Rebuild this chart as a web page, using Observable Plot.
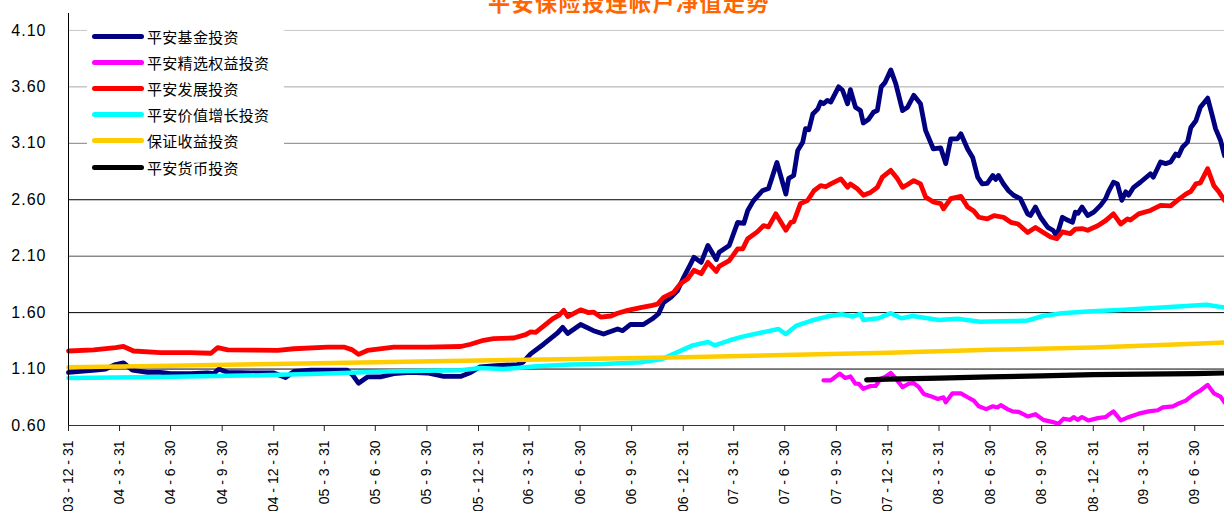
<!DOCTYPE html>
<html>
<head>
<meta charset="utf-8">
<script src="https://cdn.jsdelivr.net/npm/d3@7"></script>
<script src="https://cdn.jsdelivr.net/npm/@observablehq/plot@0.6"></script>
<style>
  html, body { margin: 0; padding: 0; background: #fff; }
  #wrap { position: relative; width: 1224px; height: 511px; overflow: hidden; }
  #legend { position: absolute; left: 87px; top: 23px; width: 197px; height: 162px; background: #fff; }
  .row { position: absolute; left: 0; height: 26px; display: flex; align-items: center; }
  .sw { width: 52px; height: 5px; border-radius: 3px; margin-left: 5px; margin-right: 3px; }
  .lb { font-family: "Noto Sans CJK SC", sans-serif; font-size: 15px; color: #000; letter-spacing: 0.3px; white-space: nowrap; }
  g[aria-label="y-axis tick label"] text { letter-spacing: 1px; }
</style>
</head>
<body>
<div id="wrap"></div>
<script>
const title = "平安保险投连帐户净值走势";
const seriesNames = ["平安基金投资", "平安精选权益投资", "平安发展投资", "平安价值增长投资", "保证收益投资", "平安货币投资"];
const yTicks = [0.6, 1.1, 1.6, 2.1, 2.6, 3.1, 3.6, 4.1];
const xTickLabels = ["03-12-31","04-3-31","04-6-30","04-9-30","04-12-31","05-3-31","05-6-30","05-9-30","05-12-31","06-3-31","06-6-30","06-9-30","06-12-31","07-3-31","07-6-30","07-9-30","07-12-31","08-3-31","08-6-30","08-9-30","08-12-31","09-3-31","09-6-30"];
const xDomain = ["2003-12-31", "2009-08-22"];

// 平安基金投资
const fundDates = ["2003-12-31","2004-01-21","2004-02-17","2004-03-06","2004-03-24","2004-04-07","2004-04-23","2004-05-20","2004-06-12","2004-06-30","2004-08-05","2004-09-04","2004-09-15","2004-09-24","2004-10-10","2004-11-20","2004-12-31","2005-01-21","2005-02-05","2005-03-07","2005-04-11","2005-05-11","2005-05-20","2005-05-31","2005-06-16","2005-07-09","2005-08-02","2005-09-01","2005-10-01","2005-10-30","2005-11-29","2005-12-17","2006-01-03","2006-01-31","2006-03-11","2006-03-20","2006-04-03","2006-04-26","2006-05-21","2006-05-30","2006-06-08","2006-07-01","2006-07-24","2006-08-11","2006-09-05","2006-09-14","2006-09-28","2006-10-21","2006-11-06","2006-11-17","2006-11-26","2006-12-09","2006-12-21","2007-01-01","2007-01-10","2007-01-19","2007-02-01","2007-02-13","2007-02-28","2007-03-05","2007-03-23","2007-04-07","2007-04-18","2007-04-25","2007-05-05","2007-05-21","2007-06-01","2007-06-16","2007-07-02","2007-07-07","2007-07-16","2007-07-23","2007-08-01","2007-08-06","2007-08-12","2007-08-19","2007-08-28","2007-09-02","2007-09-07","2007-09-14","2007-09-20","2007-10-04","2007-10-11","2007-10-20","2007-10-25","2007-11-03","2007-11-12","2007-11-17","2007-11-26","2007-12-05","2007-12-12","2007-12-19","2007-12-26","2008-01-05","2008-01-14","2008-01-26","2008-02-04","2008-02-15","2008-02-27","2008-03-07","2008-03-21","2008-04-03","2008-04-12","2008-04-21","2008-05-03","2008-05-09","2008-05-21","2008-05-30","2008-06-08","2008-06-16","2008-06-25","2008-07-05","2008-07-10","2008-07-15","2008-07-24","2008-08-02","2008-08-11","2008-08-23","2008-09-05","2008-09-10","2008-09-19","2008-09-28","2008-10-11","2008-10-20","2008-10-27","2008-11-06","2008-11-15","2008-11-24","2008-11-29","2008-12-04","2008-12-11","2008-12-21","2009-01-01","2009-01-13","2009-01-22","2009-01-27","2009-02-05","2009-02-12","2009-02-20","2009-02-27","2009-03-04","2009-03-13","2009-03-25","2009-04-12","2009-04-17","2009-04-30","2009-05-09","2009-05-18","2009-05-27","2009-06-01","2009-06-08","2009-06-17","2009-06-23","2009-07-02","2009-07-10","2009-07-23","2009-08-01","2009-08-06","2009-08-15","2009-08-22"];
const fundValues = [1.07,1.08,1.09,1.10,1.14,1.155,1.09,1.07,1.07,1.06,1.06,1.065,1.06,1.10,1.07,1.065,1.065,1.025,1.08,1.09,1.09,1.09,1.05,0.975,1.03,1.03,1.06,1.07,1.065,1.035,1.035,1.07,1.12,1.13,1.14,1.16,1.235,1.32,1.42,1.47,1.415,1.495,1.44,1.41,1.455,1.44,1.495,1.495,1.545,1.59,1.69,1.735,1.795,1.915,2.00,2.09,2.045,2.195,2.07,2.135,2.195,2.40,2.39,2.505,2.59,2.68,2.70,2.93,2.65,2.79,2.815,3.035,3.11,3.23,3.22,3.36,3.405,3.465,3.45,3.48,3.465,3.60,3.57,3.45,3.575,3.42,3.39,3.28,3.31,3.375,3.39,3.60,3.64,3.75,3.627,3.39,3.42,3.525,3.45,3.215,3.05,3.06,2.92,3.14,3.14,3.185,3.05,2.975,2.80,2.74,2.745,2.815,2.78,2.815,2.74,2.68,2.64,2.61,2.475,2.46,2.535,2.445,2.355,2.33,2.28,2.445,2.42,2.40,2.49,2.48,2.535,2.46,2.49,2.55,2.61,2.67,2.755,2.74,2.595,2.67,2.64,2.71,2.755,2.83,2.80,2.935,2.92,2.935,3.005,2.99,3.065,3.11,3.24,3.30,3.42,3.50,3.33,3.23,3.125,2.99];

// 平安精选权益投资
const equityDates = ["2007-09-07","2007-09-20","2007-10-06","2007-10-16","2007-10-25","2007-11-03","2007-11-09","2007-11-17","2007-11-30","2007-12-09","2007-12-18","2007-12-26","2008-01-05","2008-01-14","2008-01-26","2008-02-06","2008-02-15","2008-02-24","2008-03-04","2008-03-16","2008-03-29","2008-04-08","2008-04-12","2008-04-24","2008-05-09","2008-05-21","2008-06-01","2008-06-10","2008-06-23","2008-07-05","2008-07-13","2008-07-19","2008-07-31","2008-08-09","2008-08-20","2008-09-05","2008-09-19","2008-10-03","2008-10-20","2008-10-30","2008-11-08","2008-11-20","2008-11-26","2008-12-03","2008-12-11","2008-12-22","2009-01-08","2009-01-22","2009-02-05","2009-02-18","2009-03-02","2009-03-22","2009-04-09","2009-04-25","2009-05-04","2009-05-22","2009-05-30","2009-06-14","2009-06-28","2009-07-10","2009-07-23","2009-08-03","2009-08-15","2009-08-22"];
const equityValues = [1.00,1.00,1.06,1.02,1.035,0.97,0.97,0.925,0.95,0.95,1.015,1.03,1.065,1.015,0.94,0.97,0.975,0.94,0.88,0.86,0.835,0.85,0.805,0.885,0.885,0.85,0.82,0.77,0.745,0.77,0.76,0.78,0.745,0.725,0.72,0.68,0.70,0.65,0.63,0.615,0.66,0.65,0.675,0.65,0.675,0.645,0.665,0.675,0.725,0.645,0.67,0.705,0.725,0.735,0.76,0.77,0.79,0.82,0.875,0.91,0.96,0.885,0.855,0.805];

// 平安发展投资
const growthDates = ["2003-12-31","2004-02-14","2004-03-24","2004-04-07","2004-04-25","2004-06-12","2004-08-05","2004-09-10","2004-09-22","2004-10-10","2005-01-07","2005-02-05","2005-04-06","2005-05-05","2005-05-20","2005-05-31","2005-06-16","2005-08-02","2005-10-01","2005-11-29","2005-12-17","2006-01-09","2006-01-27","2006-03-04","2006-03-25","2006-04-03","2006-04-12","2006-04-26","2006-05-12","2006-05-23","2006-06-01","2006-06-08","2006-07-01","2006-07-15","2006-07-24","2006-08-06","2006-08-24","2006-09-05","2006-09-23","2006-10-16","2006-11-06","2006-11-15","2006-11-26","2006-12-14","2006-12-26","2007-01-08","2007-01-19","2007-02-01","2007-02-13","2007-02-28","2007-03-05","2007-03-23","2007-04-07","2007-04-16","2007-04-25","2007-05-12","2007-05-23","2007-06-01","2007-06-14","2007-07-02","2007-07-11","2007-07-16","2007-07-28","2007-08-10","2007-08-21","2007-09-02","2007-09-11","2007-09-20","2007-10-08","2007-10-20","2007-10-25","2007-11-07","2007-11-17","2007-11-30","2007-12-12","2007-12-21","2008-01-05","2008-01-17","2008-01-26","2008-02-04","2008-02-15","2008-02-27","2008-03-07","2008-03-21","2008-04-03","2008-04-08","2008-04-21","2008-05-09","2008-05-21","2008-06-01","2008-06-10","2008-06-25","2008-07-07","2008-07-24","2008-08-06","2008-08-19","2008-09-05","2008-09-19","2008-10-03","2008-10-16","2008-10-27","2008-11-06","2008-11-20","2008-11-29","2008-12-11","2008-12-21","2009-01-08","2009-01-22","2009-02-05","2009-02-18","2009-03-02","2009-03-07","2009-03-22","2009-04-12","2009-04-30","2009-05-18","2009-05-30","2009-06-14","2009-06-23","2009-07-02","2009-07-10","2009-07-23","2009-08-03","2009-08-12","2009-08-22"];
const growthValues = [1.26,1.27,1.29,1.30,1.26,1.245,1.245,1.24,1.29,1.27,1.265,1.28,1.295,1.295,1.27,1.23,1.265,1.295,1.295,1.30,1.32,1.355,1.37,1.375,1.405,1.43,1.425,1.48,1.545,1.575,1.62,1.565,1.625,1.60,1.605,1.56,1.57,1.595,1.62,1.645,1.665,1.675,1.735,1.78,1.855,1.90,1.975,1.945,2.045,1.965,2.01,2.06,2.165,2.165,2.255,2.315,2.37,2.36,2.475,2.33,2.40,2.405,2.565,2.595,2.68,2.725,2.715,2.74,2.785,2.71,2.74,2.695,2.64,2.665,2.71,2.80,2.86,2.785,2.71,2.735,2.77,2.74,2.625,2.58,2.565,2.52,2.61,2.63,2.535,2.50,2.445,2.43,2.46,2.445,2.40,2.385,2.31,2.355,2.31,2.27,2.255,2.315,2.30,2.34,2.345,2.33,2.37,2.415,2.475,2.385,2.43,2.42,2.475,2.505,2.55,2.545,2.595,2.65,2.675,2.74,2.75,2.875,2.725,2.67,2.595];

// 平安价值增长投资
const valueDates = ["2003-12-31","2004-06-12","2004-12-08","2005-04-06","2005-08-02","2005-11-29","2006-01-03","2006-02-13","2006-04-14","2006-06-13","2006-08-11","2006-10-16","2006-11-24","2006-12-21","2007-01-17","2007-02-13","2007-02-25","2007-03-24","2007-04-14","2007-05-16","2007-06-19","2007-07-02","2007-07-21","2007-08-17","2007-09-13","2007-10-09","2007-10-29","2007-11-12","2007-11-17","2007-12-14","2008-01-05","2008-01-24","2008-02-13","2008-03-31","2008-05-03","2008-06-12","2008-08-10","2008-09-05","2008-10-02","2008-11-05","2008-12-21","2009-02-24","2009-05-02","2009-07-21","2009-08-22"];
const valueValues = [1.02,1.03,1.045,1.06,1.08,1.09,1.11,1.10,1.125,1.14,1.145,1.16,1.19,1.25,1.31,1.34,1.31,1.355,1.385,1.42,1.455,1.41,1.485,1.53,1.565,1.585,1.565,1.59,1.535,1.55,1.595,1.55,1.57,1.535,1.545,1.52,1.525,1.53,1.57,1.595,1.61,1.625,1.645,1.67,1.645];

// 保证收益投资
const guaranteedDates = ["2003-12-31","2004-06-30","2004-12-31","2005-06-30","2005-12-31","2006-06-30","2006-12-31","2007-06-30","2007-12-31","2008-06-30","2008-12-31","2009-06-30","2009-08-22"];
const guaranteedValues = [1.115,1.13,1.145,1.16,1.175,1.19,1.205,1.225,1.245,1.27,1.29,1.325,1.335];

// 平安货币投资
const moneyDates = ["2007-11-23","2007-12-31","2008-03-31","2008-06-30","2008-09-30","2008-12-31","2009-03-31","2009-06-30","2009-08-22"];
const moneyValues = [1.005,1.01,1.02,1.03,1.04,1.05,1.055,1.06,1.065];

const seriesColors = ["#000080", "#FF00FF", "#FF0000", "#00FFFF", "#FFCC00", "#000000"];
const seriesWidths = [4.8, 4.2, 4.8, 4.5, 4.5, 5.2];

const parse = d3.utcParse("%Y-%m-%d");
const parseTick = d3.utcParse("%y-%m-%d");
const toRows = (dates, values) => dates.map((d, i) => ({date: parse(d), value: values[i]}));
const seriesData = [
  toRows(fundDates, fundValues),
  toRows(equityDates, equityValues),
  toRows(growthDates, growthValues),
  toRows(valueDates, valueValues),
  toRows(guaranteedDates, guaranteedValues),
  toRows(moneyDates, moneyValues)
];

const tickDates = xTickLabels.map(s => parseTick(s));
const tickLabelMap = new Map(tickDates.map((d, i) => [+d, xTickLabels[i].split("-").join(" - ")]));
const domainX = xDomain.map(parse);
const yMax = 4.25;

const gridShade = v => v >= 4 ? "#c8c8c8" : v >= 3.5 ? "#aaaaaa" : v >= 3 ? "#808080" : v >= 2.5 ? "#000000" : v >= 2 ? "#505050" : "#000000";
const gridValues = yTicks.filter(v => v > yTicks[0]);

const chart = Plot.plot({
  width: 1224,
  height: 511,
  marginLeft: 68,
  marginRight: 0,
  marginTop: 13,
  marginBottom: 86,
  style: {fontFamily: "'Liberation Sans', Arial, sans-serif", background: "#fff", color: "#000"},
  x: {type: "utc", domain: domainX},
  y: {domain: [yTicks[0], yMax]},
  marks: [
    Plot.ruleY(gridValues, {stroke: d => gridShade(d), strokeWidth: 1}),
    ...seriesData.map((data, i) => Plot.line(data, {
      x: "date", y: "value",
      stroke: seriesColors[i], strokeWidth: seriesWidths[i],
      strokeLinejoin: "round", strokeLinecap: "round"
    })),
    Plot.ruleX([domainX[0]], {y1: yTicks[0], y2: yMax, stroke: "#000", strokeWidth: 1}),
    Plot.ruleY([yTicks[0]], {stroke: "#333", strokeWidth: 1.2}),
    Plot.axisY({ticks: yTicks, tickFormat: d3.format(".2f"), tickSize: 0, tickPadding: 22, fontSize: 16, label: null}),
    Plot.axisX({ticks: tickDates, tickFormat: d => tickLabelMap.get(+d), tickRotate: -90, tickSize: 6, tickPadding: 9, fontSize: 14, label: null, stroke: "#222"})
  ]
});

const wrap = document.getElementById("wrap");
wrap.appendChild(chart);

d3.select(chart).append("text")
  .attr("x", 629).attr("y", 11)
  .attr("text-anchor", "middle")
  .attr("fill", "#FF6600")
  .attr("font-family", "'Noto Sans CJK SC', sans-serif")
  .attr("font-weight", "bold")
  .attr("font-size", 22)
  .attr("letter-spacing", "1.5px")
  .text(title);

const legend = document.createElement("div");
legend.id = "legend";
seriesNames.forEach((name, i) => {
  const row = document.createElement("div");
  row.className = "row";
  row.style.top = (i * 26.2) + "px";
  const sw = document.createElement("div");
  sw.className = "sw";
  sw.style.background = seriesColors[i];
  const lb = document.createElement("span");
  lb.className = "lb";
  lb.textContent = name;
  row.appendChild(sw);
  row.appendChild(lb);
  legend.appendChild(row);
});
wrap.appendChild(legend);
</script>
</body>
</html>
